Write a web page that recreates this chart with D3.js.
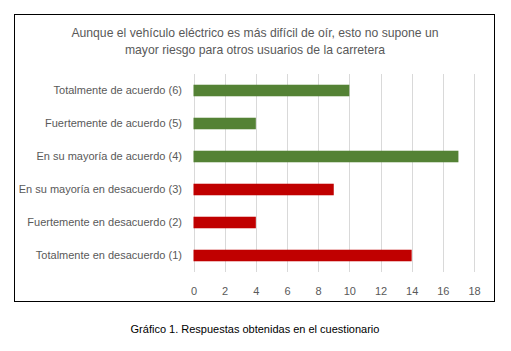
<!DOCTYPE html>
<html>
<head>
<meta charset="utf-8">
<script src="https://cdn.jsdelivr.net/npm/d3@7"></script>
<style>
  body { margin: 0; background: #fff; }
  text { font-family: "Liberation Sans", Arial, sans-serif; }
</style>
</head>
<body>
<div id="chart"></div>
<script>
// categories top to bottom, as shown
const categories = [
  "Totalmente de acuerdo (6)",
  "Fuertemente de acuerdo (5)",
  "En su mayoría de acuerdo (4)",
  "En su mayoría en desacuerdo (3)",
  "Fuertemente en desacuerdo (2)",
  "Totalmente en desacuerdo (1)"
];
const values = [10, 4, 17, 9, 4, 14];
const xTicks = [0, 2, 4, 6, 8, 10, 12, 14, 16, 18];
const titleLines = [
  "Aunque el vehículo eléctrico es más difícil de oír, esto no supone un",
  "mayor riesgo para otros usuarios de la carretera"
];
const caption = "Gráfico 1. Respuestas obtenidas en el cuestionario";

const W = 511, H = 351;
const svg = d3.select("#chart").append("svg")
  .attr("width", W)
  .attr("height", H);

// chart frame
svg.append("rect")
  .attr("x", 14.5).attr("y", 14.5)
  .attr("width", 480).attr("height", 287)
  .attr("fill", "#fff")
  .attr("stroke", "#000")
  .attr("stroke-width", 1);

// title
svg.selectAll(".title")
  .data(titleLines)
  .enter().append("text")
  .attr("class", "title")
  .attr("x", 255)
  .attr("y", (d, i) => 37 + i * 17)
  .attr("text-anchor", "middle")
  .attr("font-size", "12.2px")
  .attr("fill", "#595959")
  .text(d => d);

const x = d3.scaleLinear().domain([0, 18]).range([193.5, 474]);
const y = d3.scaleBand().domain(categories).range([74, 272]).paddingInner(0.65).paddingOuter(0.325);

// gridlines
svg.append("g")
  .selectAll("line")
  .data(xTicks)
  .enter().append("line")
  .attr("x1", d => Math.round(x(d)) + 0.5)
  .attr("x2", d => Math.round(x(d)) + 0.5)
  .attr("y1", 74)
  .attr("y2", 272)
  .attr("stroke", "#d9d9d9")
  .attr("stroke-width", 1);

// bars: categories ending in (1)-(3) are red, the rest green
svg.append("g")
  .selectAll("rect")
  .data(categories)
  .enter().append("rect")
  .attr("x", x(0))
  .attr("y", d => y(d))
  .attr("width", (d, i) => x(values[i]) - x(0))
  .attr("height", y.bandwidth())
  .attr("fill", (d, i) => i < 3 ? "#548235" : "#c00000");

// category labels
svg.append("g")
  .selectAll("text")
  .data(categories)
  .enter().append("text")
  .attr("x", 182)
  .attr("y", d => y(d) + y.bandwidth() / 2)
  .attr("dy", "0.35em")
  .attr("text-anchor", "end")
  .attr("font-size", "11px")
  .attr("fill", "#595959")
  .text(d => d);

// x axis
const xAxis = svg.append("g")
  .attr("transform", "translate(0,272)")
  .call(d3.axisBottom(x).tickValues(xTicks).tickSize(0).tickPadding(15));
xAxis.select(".domain").remove();
xAxis.selectAll("text")
  .attr("font-family", "Liberation Sans, Arial, sans-serif")
  .attr("font-size", "11px")
  .attr("fill", "#595959");

// caption under the frame
svg.append("text")
  .attr("x", 255)
  .attr("y", 333)
  .attr("text-anchor", "middle")
  .attr("font-size", "11px")
  .attr("fill", "#000")
  .text(caption);
</script>
</body>
</html>
